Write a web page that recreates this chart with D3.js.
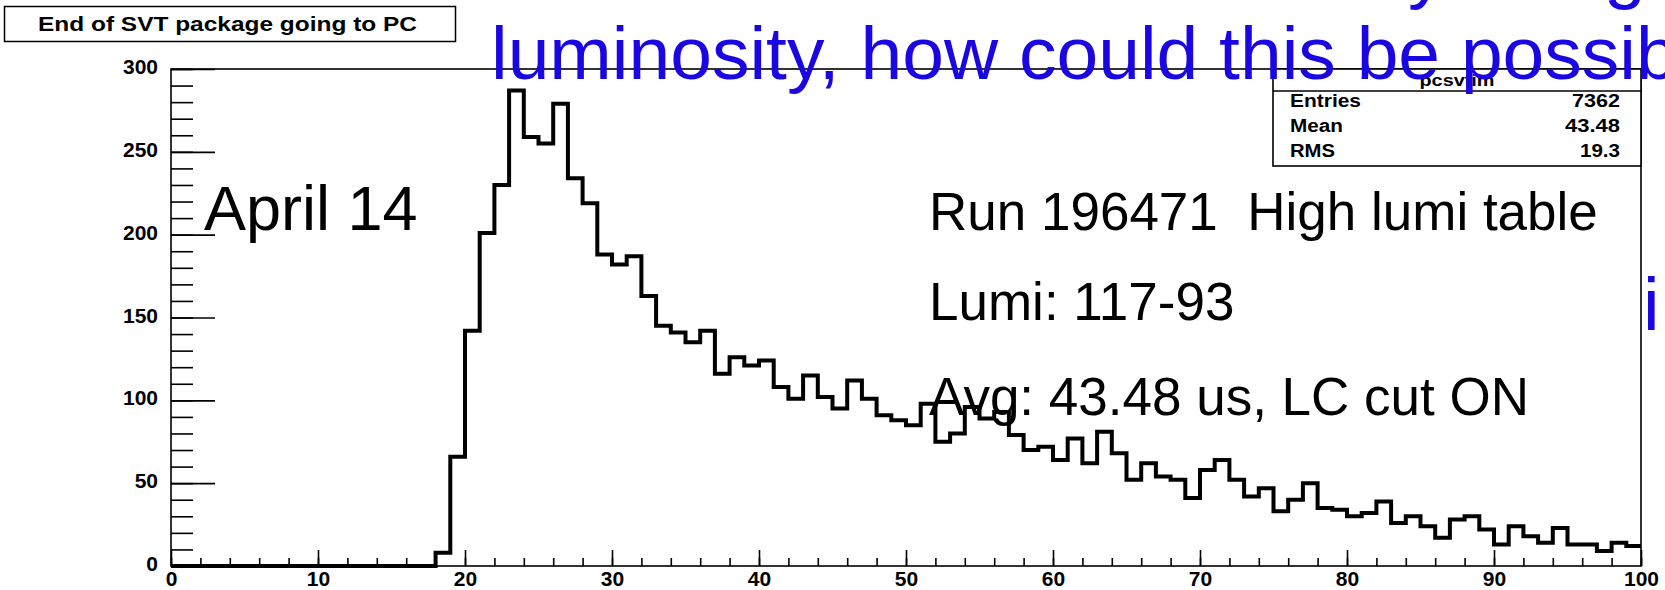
<!DOCTYPE html>
<html>
<head>
<meta charset="utf-8">
<script src="https://cdn.jsdelivr.net/npm/d3@7"></script>
<style>
  html, body { margin: 0; padding: 0; background: #fff; }
  svg { display: block; }
</style>
</head>
<body>
<div id="chart"></div>
<script>
// == DATA ==
const xDomain = [0, 100];
const yDomain = [0, 300];

// bin contents, bins of width 1 from 0 to 100
const counts = [
  0, 0, 0, 0, 0, 0, 0, 0, 0, 0,
  0, 0, 0, 0, 0, 0, 0, 0, 8, 66,
  142, 201, 230, 287, 259, 255, 279, 234, 219, 188,
  182, 187, 163, 145, 141, 135, 142, 116, 126, 121,
  124, 108, 101, 115, 102, 95, 112, 101, 91, 88,
  85, 98, 75, 80, 96, 89, 93, 79, 70, 72,
  64, 77, 62, 81, 68, 52, 62, 54, 52, 41,
  58, 64, 52, 42, 47, 33, 40, 50, 35, 34,
  30, 32, 39, 26, 30, 24, 17, 28, 30, 22,
  13, 24, 18, 14, 23, 13, 13, 9, 14, 12
];

const xMajorTicks = [0, 10, 20, 30, 40, 50, 60, 70, 80, 90, 100];
const yMajorTicks = [0, 50, 100, 150, 200, 250, 300];

const histTitle = 'End of SVT package going to PC';
const statName = 'pcsvtim';
const statLabels = ['Entries', 'Mean', 'RMS'];
const statValues = ['7362', '43.48', '19.3'];

const noteLines = ['Run 196471  High lumi table', 'Lumi: 117-93', 'Avg: 43.48 us, LC cut ON'];
const dateNote = 'April 14';
const slideLines = ['time distribution is shorter by using', 'luminosity, how could this be possib'];

// == CONFIG ==
const W = 1665;
const H = 590;
const FRAME = { left: 171, right: 1641, top: 69, bottom: 566 };
const FONT = '"Liberation Sans", Arial, Helvetica, sans-serif';
const COLOR_SLIDE = '#1a06e2';

// == SETUP ==
const svg = d3.select('#chart')
  .append('svg')
  .attr('width', W)
  .attr('height', H);

svg.append('rect')
  .attr('width', W)
  .attr('height', H)
  .attr('fill', '#fff');

const x = d3.scaleLinear().domain(xDomain).range([FRAME.left, FRAME.right]);
const y = d3.scaleLinear().domain(yDomain).range([FRAME.bottom, FRAME.top]);

// == HISTOGRAM ==
const histPoints = counts.map((c, i) => [i, c]);
histPoints.push([xDomain[1], counts[counts.length - 1]]);

const line = d3.line()
  .x(d => x(d[0]))
  .y(d => y(d[1]))
  .curve(d3.curveStepAfter);

svg.append('path')
  .datum(histPoints)
  .attr('d', line)
  .attr('fill', 'none')
  .attr('stroke', '#000')
  .attr('stroke-width', 4)
  .attr('stroke-linejoin', 'miter');

// == AXES ==
// minor ticks first, then major ticks with labels (ticks point into the frame)
const xMinor = d3.axisBottom(x).tickValues(d3.range(0, 101, 2)).tickSize(-8).tickFormat('');
const xMajor = d3.axisBottom(x).tickValues(xMajorTicks).tickSize(-16).tickPadding(5).tickFormat(d3.format('d'));
const yMinor = d3.axisLeft(y).tickValues(d3.range(0, 301, 10)).tickSize(-22).tickFormat('');
const yMajor = d3.axisLeft(y).tickValues(yMajorTicks).tickSize(-44).tickPadding(13).tickFormat(d3.format('d'));

[xMinor, xMajor].forEach(ax => {
  svg.append('g')
    .attr('transform', `translate(0,${FRAME.bottom})`)
    .call(ax);
});
[yMinor, yMajor].forEach(ax => {
  svg.append('g')
    .attr('class', 'y-axis')
    .attr('transform', `translate(${FRAME.left},0)`)
    .call(ax);
});

svg.selectAll('.domain').remove();
svg.selectAll('.tick line')
  .attr('stroke', '#000')
  .attr('stroke-width', 1.6);
svg.selectAll('.tick text')
  .attr('fill', '#000')
  .attr('font-family', FONT)
  .attr('font-weight', 'bold')
  .attr('font-size', 21);
svg.selectAll('.y-axis .tick text').attr('dy', '0.22em');

// frame
svg.append('rect')
  .attr('x', FRAME.left)
  .attr('y', FRAME.top)
  .attr('width', FRAME.right - FRAME.left)
  .attr('height', FRAME.bottom - FRAME.top)
  .attr('fill', 'none')
  .attr('stroke', '#000')
  .attr('stroke-width', 1.6);

// == STATS BOX ==
const stat = svg.append('g');
const SB = { left: 1273, right: 1641, top: 69, sep: 91, bottom: 166 };

stat.append('rect')
  .attr('x', SB.left)
  .attr('y', SB.top)
  .attr('width', SB.right - SB.left)
  .attr('height', SB.bottom - SB.top)
  .attr('fill', '#fff')
  .attr('stroke', '#000')
  .attr('stroke-width', 1.6);

stat.append('line')
  .attr('x1', SB.left).attr('x2', SB.right)
  .attr('y1', SB.sep).attr('y2', SB.sep)
  .attr('stroke', '#000')
  .attr('stroke-width', 1.6);

stat.append('text')
  .attr('x', (SB.left + SB.right) / 2)
  .attr('y', 86)
  .attr('text-anchor', 'middle')
  .attr('font-family', FONT)
  .attr('font-weight', 'bold')
  .attr('font-size', 17)
  .attr('textLength', 75)
  .attr('lengthAdjust', 'spacingAndGlyphs')
  .text(statName);

const rowY = [107, 132, 157];
const labelW = [71, 53, 45];
const valueW = [48, 55, 40];

statLabels.forEach((lab, i) => {
  stat.append('text')
    .attr('x', 1290)
    .attr('y', rowY[i])
    .attr('font-family', FONT)
    .attr('font-weight', 'bold')
    .attr('font-size', 18)
    .attr('textLength', labelW[i])
    .attr('lengthAdjust', 'spacingAndGlyphs')
    .text(lab);
  stat.append('text')
    .attr('x', 1620)
    .attr('y', rowY[i])
    .attr('text-anchor', 'end')
    .attr('font-family', FONT)
    .attr('font-weight', 'bold')
    .attr('font-size', 18)
    .attr('textLength', valueW[i])
    .attr('lengthAdjust', 'spacingAndGlyphs')
    .text(statValues[i]);
});

// == TITLE BOX ==
svg.append('rect')
  .attr('x', 4.5)
  .attr('y', 6.5)
  .attr('width', 451)
  .attr('height', 35)
  .attr('fill', '#fff')
  .attr('stroke', '#000')
  .attr('stroke-width', 1.5);

svg.append('text')
  .attr('x', 38)
  .attr('y', 31)
  .attr('font-family', FONT)
  .attr('font-weight', 'bold')
  .attr('font-size', 20.5)
  .attr('textLength', 379)
  .attr('lengthAdjust', 'spacingAndGlyphs')
  .text(histTitle);

// == ANNOTATIONS ==
svg.append('text')
  .attr('x', 204)
  .attr('y', 230)
  .attr('font-family', FONT)
  .attr('font-size', 63)
  .attr('fill', '#000')
  .text(dateNote);

const noteY = [230, 320, 415];
noteLines.forEach((t, i) => {
  svg.append('text')
    .attr('x', 929)
    .attr('y', noteY[i])
    .attr('font-family', FONT)
    .attr('font-size', 53)
    .attr('fill', '#000')
    .style('white-space', 'pre')
    .text(t);
});

// slide text behind / over the picture
const slideY = [-5, 79];
slideLines.forEach((t, i) => {
  svg.append('text')
    .attr('x', 491)
    .attr('y', slideY[i])
    .attr('font-family', FONT)
    .attr('font-size', 75)
    .attr('fill', COLOR_SLIDE)
    .text(t);
});

svg.append('text')
  .attr('x', 1643)
  .attr('y', 330)
  .attr('font-family', FONT)
  .attr('font-size', 75)
  .attr('fill', COLOR_SLIDE)
  .text('i');
</script>
</body>
</html>
